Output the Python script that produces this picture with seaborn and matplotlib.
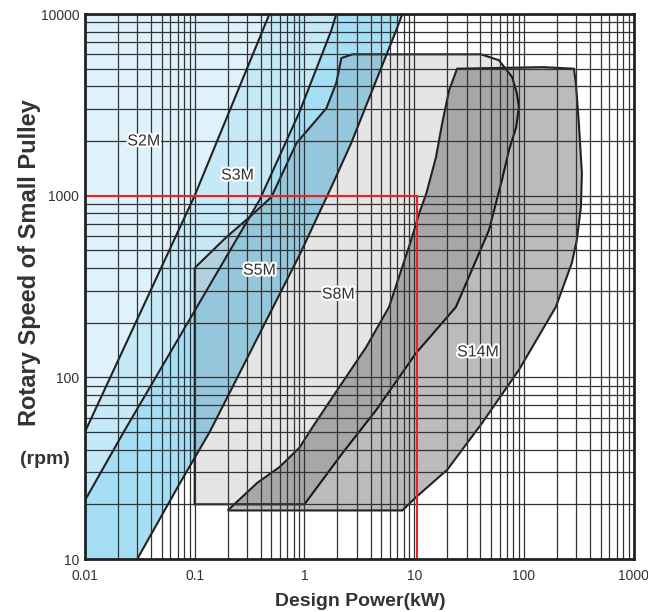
"""
plot.py

Belt selection chart: rotary speed of small pulley vs design power,
with S2M / S3M / S5M / S8M / S14M zones on log-log axes.
"""

import matplotlib
matplotlib.use("Agg")
import matplotlib.pyplot as plt
import matplotlib.patheffects as pe
from matplotlib.ticker import FixedLocator, FixedFormatter, NullFormatter
import seaborn as sns
import pandas as pd

# -----------------------------
# Data (kW, rpm)
# -----------------------------
# boundary lines between the blue zones
line1_kw = [0.01, 0.1, 0.48]
line1_rpm = [50, 1000, 10000]

line2_kw = [0.01, 0.023, 0.39, 0.9, 1.76, 1.95]
line2_rpm = [21, 51, 946, 2880, 8140, 10000]

line4_kw = [0.03, 0.073, 0.137, 0.9, 1.8, 2.67, 6.86, 7.8]
line4_rpm = [10, 26, 50, 470, 1150, 1950, 8140, 10000]

# S8M zone outline
s8m_kw = [0.1, 0.1, 0.195, 0.316, 0.5, 0.845, 1.585, 1.95, 2.17, 2.73,
          40.6, 59, 78, 86, 90, 85, 73, 63, 48, 24, 10.4, 4.5, 2.2, 1.0]
s8m_rpm = [20, 400, 592, 762, 982, 1945, 3030, 4170, 5720, 6000,
           6000, 5570, 4500, 3670, 3080, 2390, 1780, 1220, 646, 244, 136, 66, 38, 20]

# S14M zone outline
s14m_kw = [0.2, 0.37, 0.59, 0.9, 1.18, 2.08, 3.66, 5.9, 9.3, 11.1, 12.9, 15.8,
           18, 20.8, 24.6, 150, 285, 297, 316, 337, 330, 303, 273, 195, 90,
           41.5, 20, 10.4, 7.8]
s14m_rpm = [18.5, 26.2, 32, 41, 53, 88.5, 147, 244, 560, 800, 1030, 1630,
            2510, 3810, 5000, 5100, 5000, 4170, 2510, 1330, 865, 570, 426, 244, 110,
            56, 31, 21.9, 18.5]

# red reading example
red_kw = [0.01, 10.6, 10.6]
red_rpm = [1000, 1000, 10]

zone_names = ["S2M", "S3M", "S5M", "S8M", "S14M"]
zone_label_kw = [0.0344, 0.246, 0.39, 2.04, 38.2]
zone_label_rpm = [2000, 1297, 389, 287, 138]

x_ticks = [0.01, 0.1, 1, 10, 100, 1000]
x_tick_labels = ["0.01", "0.1", "1", "10", "100", "1000"]
y_ticks = [10, 100, 1000, 10000]
y_tick_labels = ["10", "100", "1000", "10000"]

# -----------------------------
# Figure setup
# -----------------------------
sns.set_style("white")
plt.rcParams["font.family"] = ["Liberation Sans", "DejaVu Sans"]

fig = plt.figure(figsize=(6.48, 6.12), dpi=100)
ax = fig.add_axes([0.131, 0.0866, 0.847, 0.8905])
ax.set_xscale("log")
ax.set_yscale("log")
ax.set_xlim(0.01, 1000)
ax.set_ylim(10, 10000)

# -----------------------------
# Blue zones (bands between the diagonal lines)
# -----------------------------
x_lo, x_hi = 0.01, 1000
y_lo, y_hi = 10, 10000

# S2M: left of line 1
ax.fill(line1_kw + [x_lo], line1_rpm + [y_hi], color="#dff1fb", lw=0, zorder=1)
# S3M: between line 1 and line 2
ax.fill(line2_kw + line1_kw[::-1], line2_rpm + line1_rpm[::-1],
        color="#c6e9f8", lw=0, zorder=1)
# S5M: between line 2 and line 4
ax.fill([x_lo] + line2_kw + line4_kw[::-1], [y_lo] + line2_rpm + line4_rpm[::-1],
        color="#a6def5", lw=0, zorder=1)

# Gray zones drawn as translucent black = multiply look
ax.fill(s8m_kw, s8m_rpm, facecolor=(0, 0, 0, 0.10), edgecolor="#222222",
        lw=1.5, zorder=1.2)
ax.fill(s14m_kw, s14m_rpm, facecolor=(0, 0, 0, 0.265), edgecolor="#222222",
        lw=1.5, zorder=1.4)

# -----------------------------
# Grid, boundary lines, red reading lines
# -----------------------------
ax.set_axisbelow(False)
ax.grid(which="both", color="#333333", lw=0.9)

lines = pd.concat([
    pd.DataFrame({"kw": line1_kw, "rpm": line1_rpm, "line": "1"}),
    pd.DataFrame({"kw": line2_kw, "rpm": line2_rpm, "line": "2"}),
    pd.DataFrame({"kw": line4_kw, "rpm": line4_rpm, "line": "4"}),
])
sns.lineplot(data=lines, x="kw", y="rpm", units="line", estimator=None,
             sort=False, color="#222222", lw=1.5, ax=ax, zorder=3)

sns.lineplot(x=red_kw, y=red_rpm, sort=False, estimator=None,
             color="#e8262a", lw=1.5, ax=ax, zorder=4)

# zone labels with white halo
for name, kx, ry in zip(zone_names, zone_label_kw, zone_label_rpm):
    ax.text(kx, ry, name, ha="center", va="center", fontsize=11.5,
            color="#333333", zorder=5,
            path_effects=[pe.withStroke(linewidth=3, foreground="white")])

# -----------------------------
# Axes styling
# -----------------------------
ax.xaxis.set_major_locator(FixedLocator(x_ticks))
ax.xaxis.set_major_formatter(FixedFormatter(x_tick_labels))
ax.yaxis.set_major_locator(FixedLocator(y_ticks))
ax.yaxis.set_major_formatter(FixedFormatter(y_tick_labels))
ax.xaxis.set_minor_formatter(NullFormatter())
ax.yaxis.set_minor_formatter(NullFormatter())
ax.tick_params(which="both", length=0, labelsize=10, labelcolor="#333333")
ax.tick_params(axis="x", pad=7)
ax.tick_params(axis="y", pad=4)
ax.set_xlabel("")
ax.set_ylabel("")
for spine in ax.spines.values():
    spine.set_color("#222222")
    spine.set_linewidth(2)
    spine.set_zorder(6)

fig.text(360 / 648, 1 - 601 / 612, "Design Power(kW)", ha="center", va="center",
         fontsize=14, fontweight="bold", color="#333333")
fig.text(30 / 648, 1 - 263 / 612, "Rotary Speed of Small Pulley", ha="center",
         va="center", rotation=90, fontsize=17, fontweight="bold", color="#333333")
fig.text(45 / 648, 1 - 460 / 612, "(rpm)", ha="center", va="center",
         fontsize=14, fontweight="bold", color="#333333")

fig.savefig("out.png", dpi=100)
